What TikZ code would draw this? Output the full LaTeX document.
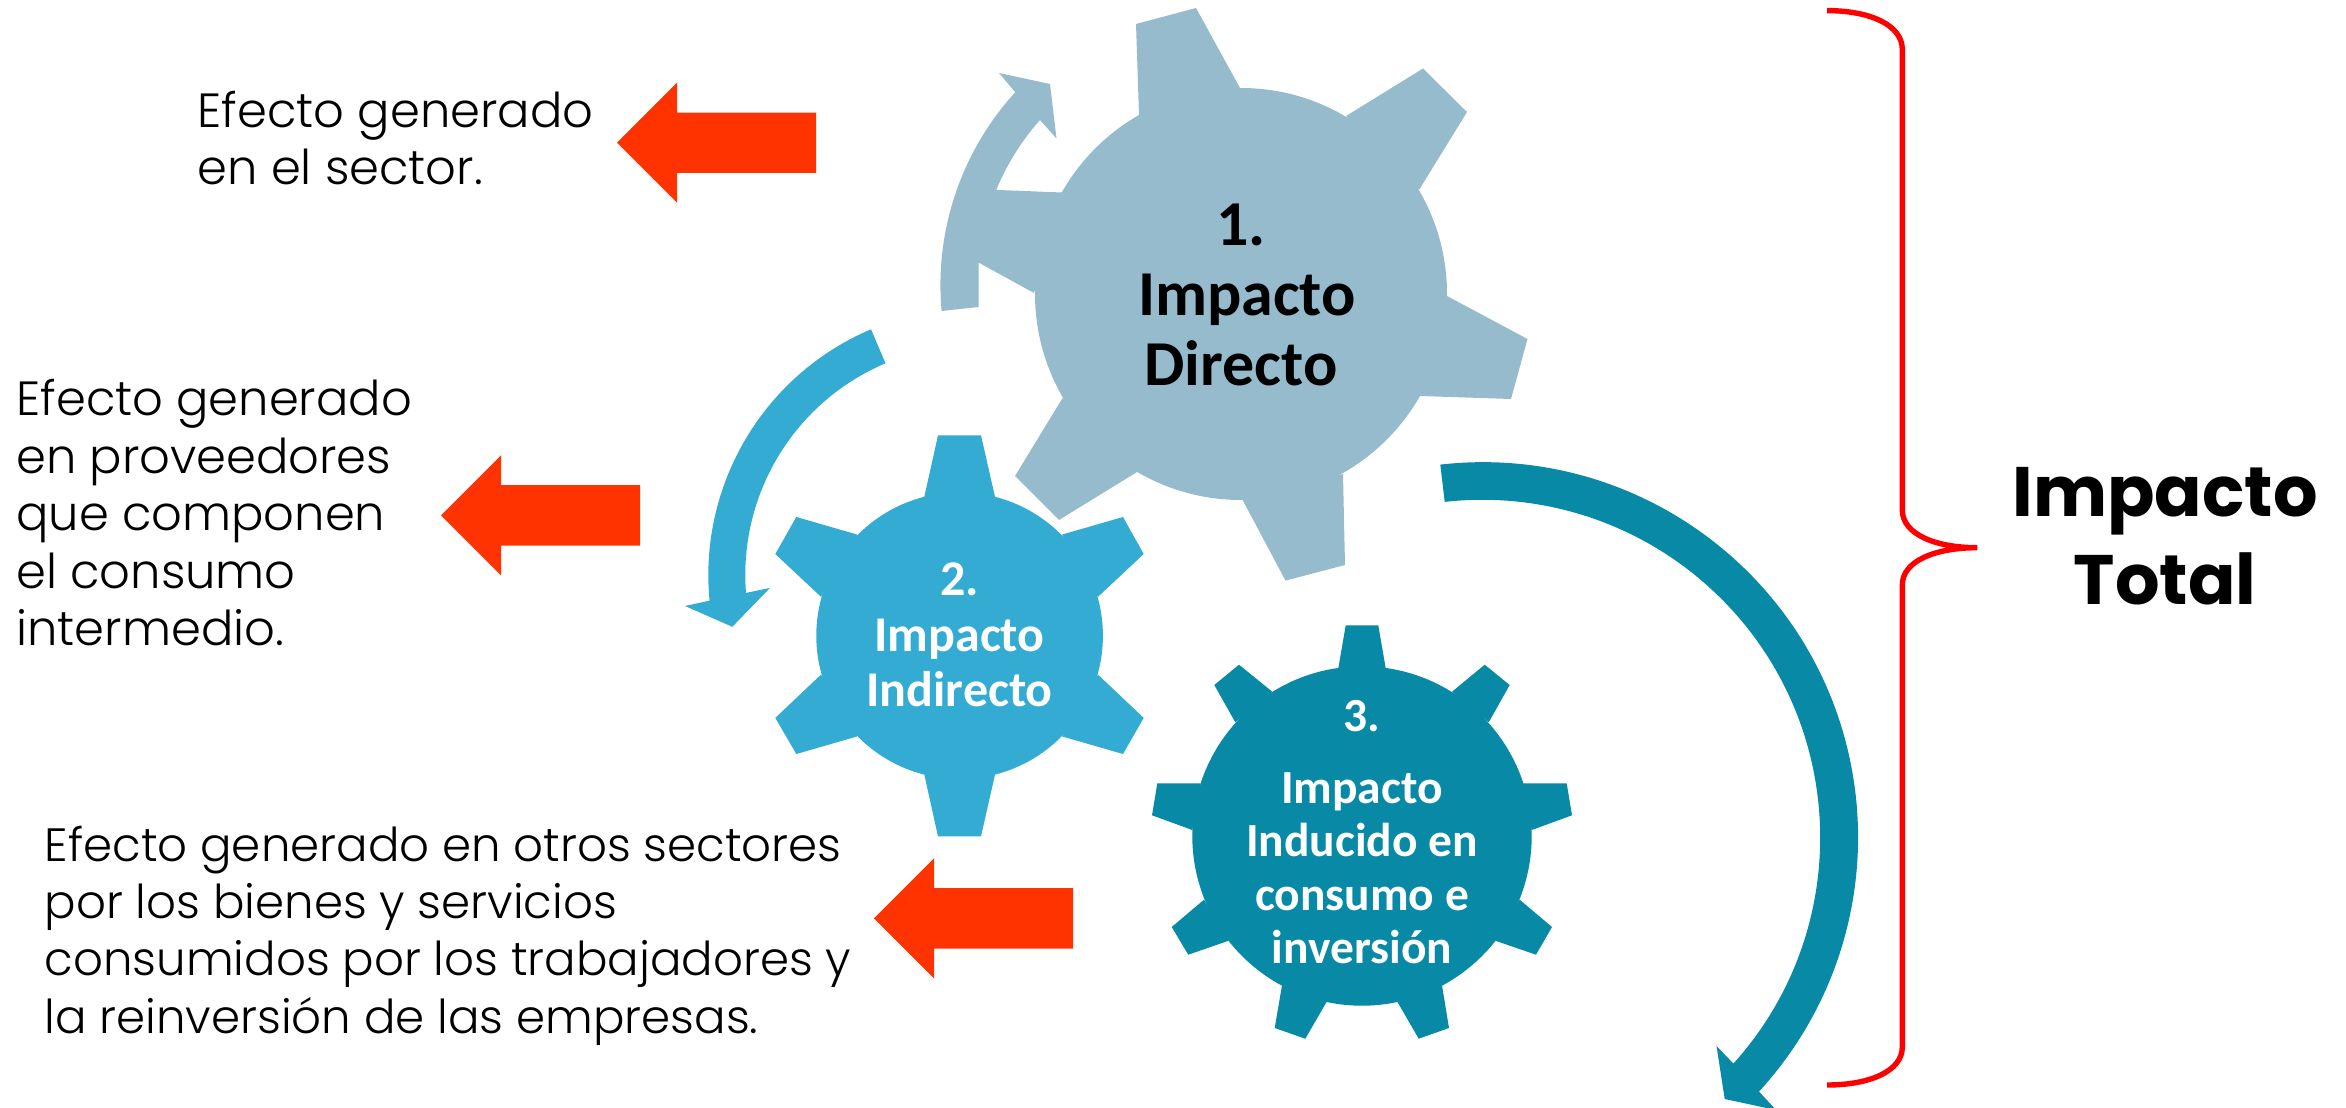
\documentclass[tikz,border=0pt]{standalone}
\usepackage{fontspec}
\usetikzlibrary{shapes.arrows}
\newfontfamily\gothicfont{Poppins Light}
\newfontfamily\gothicbold{Poppins Bold}
\newfontfamily\calibrifont{Carlito}
\definecolor{gearone}{HTML}{96BBCD}
\definecolor{geartwo}{HTML}{33ABD2}
\definecolor{gearthree}{HTML}{0889A5}
\definecolor{arrowred}{HTML}{FF3300}
\tikzset{
  gearbody/.style={circle,inner sep=0pt,outer sep=0pt},
  gearlabel/.style={align=center,inner sep=0pt,font=\calibrifont\bfseries},
  effecttext/.style={anchor=north west,align=left,inner sep=0pt,
    font=\gothicfont\fontsize{48}{57.4}\selectfont},
  redarrow/.style={single arrow,fill=arrowred,inner xsep=0pt,inner ysep=30pt,outer sep=0pt,
    minimum width=120pt,minimum height=199pt,single arrow head extend=30pt,
    shape border rotate=180,anchor=tip}
}
\begin{document}
\begin{tikzpicture}[x=1pt,y=-1pt]
  \useasboundingbox (0,0) rectangle (2346,1108);

  \node[gearbody,fill=gearone,minimum size=412pt] (direct) at (1241,294) {};
  \begin{scope}[fill=gearone]
    \fill (1139,115) -- (1136,24) -- (1196,8) -- (1240,88) -- cycle;
    \fill (1346,116) -- (1423,68.5) -- (1467,112) -- (1419,190) -- cycle;
    \fill (1447,296) -- (1527.5,339) -- (1511,399) -- (1420,396) -- cycle;
    \fill (1343,474) -- (1345,565) -- (1285.5,580.6) -- (1242.6,500) -- cycle;
    \fill (1137,472) -- (1059,520) -- (1015,476) -- (1062.6,398) -- cycle;
    \fill (1034,293) -- (978.5,262.5) -- (978.5,307) -- (941.6,311)
      arc[start angle=174.8,end angle=222.4,radius=286]
      -- (999,73) -- (1050,84) -- (1056.5,138.5) -- (1040,120)
      arc[start angle=221.6,end angle=202.5,radius=248.5]
      -- (1062,192.5) -- cycle;
  \end{scope}
  \node[gearlabel,font=\calibrifont\bfseries\fontsize{64}{70}\selectfont] (directlabel) at (1241,295) {1.\\\hspace*{12pt}Impacto\\Directo};

  \node[gearbody,fill=geartwo,minimum size=286.6pt] (indirect) at (959.6,635.7) {};
  \begin{scope}[fill=geartwo]
    \fill (924.3,496.8) -- (938,435.4) -- (981,435.4) -- (995,496.8) -- cycle;
    \fill (1062,534.6) -- (1123,517) -- (1143.7,554) -- (1098,596.8) -- cycle;
    \fill (1098,674.6) -- (1143.7,717.9) -- (1123,754) -- (1062,736.4) -- cycle;
    \fill (995,774.6) -- (981,836.4) -- (938,836.4) -- (924.3,774.6) -- cycle;
    \fill (857.3,736.4) -- (796.3,754) -- (775.3,717.9) -- (821,674.6) -- cycle;
    \fill (821,596.8) -- (775.3,554) -- (796.3,517) -- (857.3,534.6) -- cycle;
    \fill (871,329.3) arc[start angle=247,end angle=174.5,radius=267]
      -- (685,606) -- (732.3,626.8) -- (770,587.9) -- (746,592.9)
      arc[start angle=175.5,end angle=247.05,radius=229.8] -- cycle;
  \end{scope}
  \node[gearlabel,text=white,font=\calibrifont\bfseries\fontsize{50}{55.4}\selectfont] (indirectlabel) at (959.6,635) {2.\\Impacto\\Indirecto};

  \node[gearbody,fill=gearthree,minimum size=339.4pt] (induced) at (1362,836) {};
  \begin{scope}[fill=gearthree]
    \fill (1338.3,668.3) -- (1345.7,625.3) -- (1378.3,625.3) -- (1385.7,668.3) -- cycle;
    \fill (1452,691.7) -- (1484.7,664.7) -- (1509.7,685) -- (1488.7,722.3) -- cycle;
    \fill (1523,783.3) -- (1566.7,783.3) -- (1572,815.3) -- (1531.7,830) -- cycle;
    \fill (1519.7,899.7) -- (1552,927) -- (1536,954.7) -- (1495.3,940.7) -- cycle;
    \fill (1442,985.3) -- (1449,1028) -- (1418.7,1038.7) -- (1397.3,1001.7) -- cycle;
    \fill (1326.7,1001.7) -- (1305.3,1038.7) -- (1274.7,1028) -- (1282,985.3) -- cycle;
    \fill (1228.7,940.7) -- (1188.3,954.7) -- (1171.7,927) -- (1204,899.7) -- cycle;
    \fill (1192.3,830) -- (1152,815.3) -- (1157.3,783.3) -- (1200.7,783.3) -- cycle;
    \fill (1235.3,722.3) -- (1214.3,685) -- (1239,664.7) -- (1272.3,691.7) -- cycle;
    \fill (1440.3,464.6) arc[start angle=-96.5,end angle=42.6,radius=375.3]
      -- (1776,1110) -- (1724.7,1099) -- (1716.5,1046) -- (1733.4,1063.6)
      arc[start angle=42,end angle=-96.4,radius=337.8] -- cycle;
  \end{scope}
  \node[gearlabel,text=white,font=\calibrifont\bfseries\fontsize{47.5}{53.2}\selectfont] (inducedlabel) at (1362,832) {3.\\[19pt]Impacto\\Inducido en\\consumo e\\inversión};

  \node[redarrow] (arrowsector) at (617,142.7) {};
  \node[redarrow] (arrowsupply) at (441,515.4) {};
  \node[redarrow] (arrowworkers) at (874,918.3) {};

  \node[effecttext] (effectsector) at (197.5,90.5) {Efecto generado\\en el sector.};
  \node[effecttext] (effectsupply) at (16.2,379.4) {Efecto generado\\en proveedores\\que componen\\el consumo\\intermedio.};
  \node[effecttext,font=\gothicfont\fontsize{46.7}{57.4}\selectfont] (effectworkers) at (44.5,825.5) {Efecto generado en otros sectores\\por los bienes y servicios\\consumidos por los trabajadores y\\la reinversión de las empresas.};

  \draw[red,line width=5.4pt,miter limit=20]
    (1827,10.6) .. controls (1870,10.6) and (1902.3,25) .. (1902.3,49.5)
    -- (1902.3,510) .. controls (1902.3,534) and (1935,547.7) .. (1977.3,547.7)
    .. controls (1935,547.7) and (1902.3,561) .. (1902.3,585)
    -- (1902.3,1047) .. controls (1902.3,1071) and (1870,1085) .. (1827,1085);

  \node[align=center,inner sep=0pt,font=\gothicbold\fontsize{70}{88.4}\selectfont] (total) at (2165,536) {Impacto\\Total};
\end{tikzpicture}
\end{document}
